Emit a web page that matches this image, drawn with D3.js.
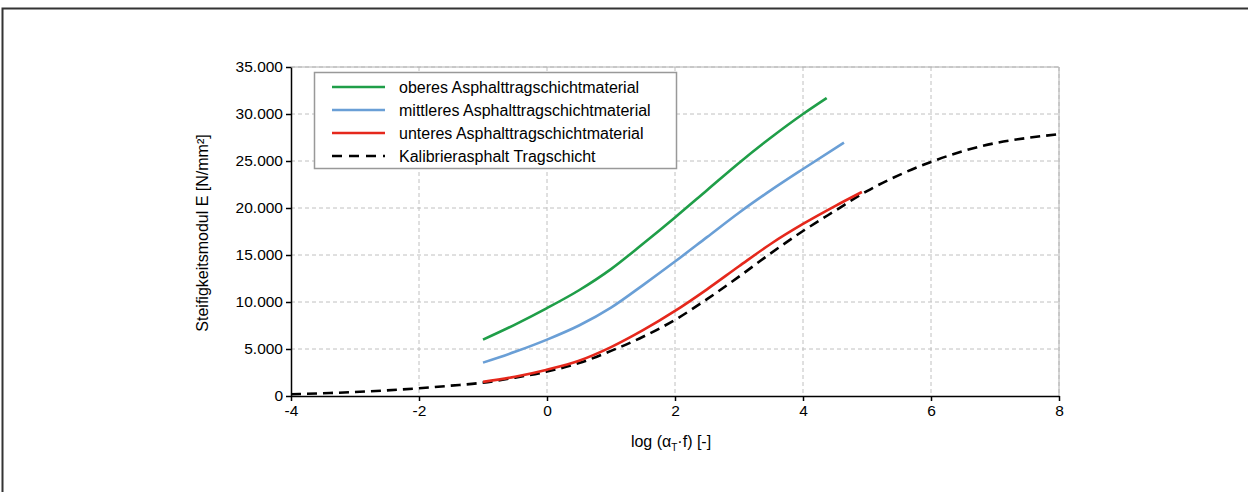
<!DOCTYPE html>
<html><head><meta charset="utf-8">
<script src="https://cdn.jsdelivr.net/npm/d3@7"></script>
<style>body{margin:0;background:#fff}svg{display:block}text{font-family:"Liberation Sans",Arial,sans-serif}</style>
</head><body><div id="chart"></div>
<script>
const xTicks=[-4,-2,0,2,4,6,8];
const yTicks=[0,5000,10000,15000,20000,25000,30000,35000];
const seriesNames=["oberes Asphalttragschichtmaterial","mittleres Asphalttragschichtmaterial","unteres Asphalttragschichtmaterial","Kalibrierasphalt Tragschicht"];
const seriesColors=["#1f9e48","#6a9fd6","#e5281c","#000000"];
const greenData=[[-1,6000],[-0.5,7600],[0,9350],[0.5,11250],[1,13500],[1.5,16200],[2,19000],[2.5,21900],[3,24800],[3.5,27500],[4,30000],[4.37,31700]];
const blueData=[[-1,3550],[-0.5,4700],[0,6000],[0.5,7500],[1,9400],[1.5,11800],[2,14300],[2.5,16900],[3,19500],[3.5,21900],[4,24150],[4.64,26950]];
const redData=[[-1,1500],[-0.5,2050],[0,2800],[0.5,3750],[1,5200],[1.5,7000],[2,9050],[2.5,11350],[3,13800],[3.5,16200],[4,18300],[4.5,20200],[4.92,21700]];
const blackData=[[-4,180],[-3.5,290],[-3,420],[-2.5,600],[-2,820],[-1.5,1100],[-1,1420],[-0.5,1950],[0,2600],[0.5,3500],[1,4800],[1.5,6300],[2,8100],[2.5,10300],[3,12700],[3.5,15200],[4,17550],[4.5,19700],[5,21800],[5.5,23500],[6,24900],[6.5,26050],[7,26900],[7.5,27450],[8,27850]];
const allData=[greenData,blueData,redData,blackData];

const W=1248,H=492;
const svg=d3.select("#chart").append("svg").attr("width",W).attr("height",H);
svg.append("rect").attr("x",2.5).attr("y",8.5).attr("width",W).attr("height",H).attr("fill","#fff").attr("stroke","#333").attr("stroke-width",2);

const L=291,R=1059,T=67,B=396;
const x=d3.scaleLinear().domain([-4,8]).range([L,R]);
const y=d3.scaleLinear().domain([0,35000]).range([B,T]);

// grid
const g=svg.append("g");
g.selectAll(".gy").data(yTicks.filter(d=>d>0)).enter().append("line")
 .attr("x1",L).attr("x2",R).attr("y1",d=>y(d)).attr("y2",d=>y(d))
 .attr("stroke","#c0c0c0").attr("stroke-width",1).attr("stroke-dasharray","4,3");
g.selectAll(".gx").data(xTicks.filter(d=>d>-4)).enter().append("line")
 .attr("y1",T).attr("y2",B).attr("x1",d=>x(d)).attr("x2",d=>x(d))
 .attr("stroke","#c0c0c0").attr("stroke-width",1).attr("stroke-dasharray","4,3");
svg.append("line").attr("x1",L).attr("x2",R).attr("y1",T).attr("y2",T).attr("stroke","#b0b0b0");
svg.append("line").attr("x1",R).attr("x2",R).attr("y1",T).attr("y2",B).attr("stroke","#b0b0b0");

// axes
const fmt=d=>d===0?"0":d3.format(",")(d).replace(/,/g,".");
const ya=svg.append("g").attr("transform",`translate(${L},0)`).call(d3.axisLeft(y).tickValues(yTicks).tickFormat(fmt).tickSize(5).tickSizeOuter(0));
const xa=svg.append("g").attr("transform",`translate(0,${B})`).call(d3.axisBottom(x).tickValues(xTicks).tickFormat(d=>d).tickSize(5).tickSizeOuter(0));
[ya,xa].forEach(a=>{a.selectAll("path,line").attr("stroke","#000").attr("stroke-width",1.5);a.selectAll("text").attr("font-size",15.5).attr("fill","#000").attr("font-family","Liberation Sans, Arial, sans-serif");});
ya.selectAll("text").attr("x",-8);
xa.selectAll("text").attr("y",9);

// lines
const line=d3.line().x(d=>x(d[0])).y(d=>y(d[1])).curve(d3.curveMonotoneX);
const order=[3,2,1,0];
order.forEach(i=>{
  svg.append("path").datum(allData[i]).attr("d",line).attr("fill","none")
   .attr("stroke",seriesColors[i]).attr("stroke-width",2.6)
   .attr("stroke-dasharray",i===3?"10,6":null);
});

// legend
const lg=svg.append("g");
lg.append("rect").attr("x",314.5).attr("y",72.5).attr("width",362).attr("height",96).attr("fill","#fff").attr("stroke","#999").attr("stroke-width",1.5);
seriesNames.forEach((n,i)=>{
  const yy=87+i*23;
  lg.append("line").attr("x1",332).attr("x2",385).attr("y1",yy).attr("y2",yy).attr("stroke",seriesColors[i]).attr("stroke-width",2.6).attr("stroke-dasharray",i===3?"10,7":null);
  lg.append("text").attr("x",399).attr("y",yy+5.5).attr("font-size",16).text(n);
});

// titles
const xt=svg.append("text").attr("x",671).attr("y",447).attr("text-anchor","middle").attr("font-size",16);
xt.append("tspan").text("log (α");
xt.append("tspan").attr("font-size",10).attr("dy",4).text("T");
xt.append("tspan").attr("dy",-4).text("·f) [-]");
svg.append("text").attr("transform","translate(208,233) rotate(-90)").attr("text-anchor","middle").attr("font-size",16).text("Steifigkeitsmodul E [N/mm²]");
</script></body></html>
